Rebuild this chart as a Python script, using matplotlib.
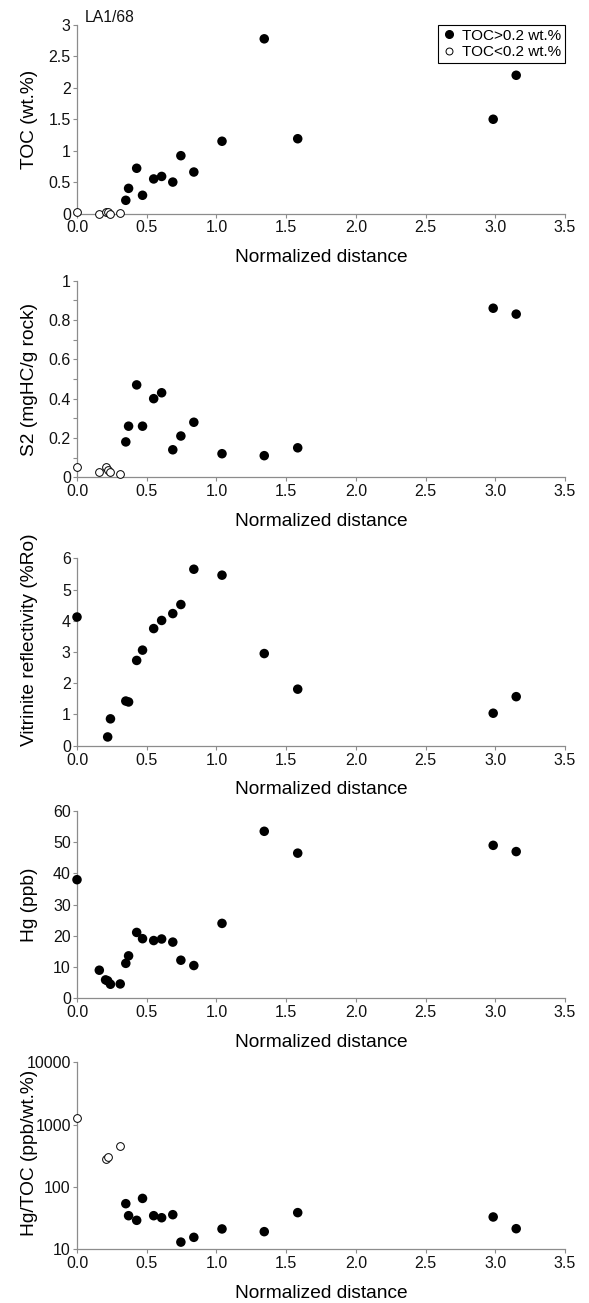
import numpy as np
import matplotlib
matplotlib.use("Agg")
import matplotlib.pyplot as plt
from matplotlib.lines import Line2D
from matplotlib.ticker import MultipleLocator, FixedLocator, FuncFormatter

plt.rcParams['font.family'] = ['Liberation Sans', 'DejaVu Sans']

# ---- data ----
distance = [0.0, 0.16, 0.205, 0.22, 0.24, 0.31, 0.35, 0.37, 0.428, 0.47,
            0.55, 0.607, 0.687, 0.745, 0.838, 1.04, 1.343, 1.583, 2.985, 3.15]
low_toc = [True] * 6 + [False] * 14
toc = [0.03, 0.0, 0.03, 0.02, 0.0, 0.01, 0.21, 0.40, 0.72, 0.29,
       0.55, 0.59, 0.50, 0.92, 0.66, 1.15, 2.78, 1.19, 1.50, 2.20]
s2 = [0.05, 0.027, 0.05, 0.037, 0.025, 0.017, 0.18, 0.26, 0.47, 0.26,
      0.40, 0.43, 0.14, 0.21, 0.28, 0.12, 0.11, 0.15, 0.86, 0.83]
vitrinite = [4.12, np.nan, np.nan, 0.28, 0.86, np.nan, 1.43, 1.40, 2.73, 3.06,
             3.75, 4.01, 4.23, 4.52, 5.65, 5.46, 2.95, 1.81, 1.04, 1.57]
hg = [38.0, 9.0, 5.9, 5.6, 4.5, 4.6, 11.2, 13.6, 21.1, 19.1,
      18.5, 19.0, 18.0, 12.2, 10.5, 24.0, 53.5, 46.5, 49.0, 47.0]
hg_toc = [1260, np.nan, 279, 301, np.nan, 452, 53.5, 34.3, 28.9, 65,
          34.3, 31.8, 35.6, 12.9, 15.4, 21.0, 19.0, 38.4, 32.7, 21.2]

x_ticks = [0.0, 0.5, 1.0, 1.5, 2.0, 2.5, 3.0, 3.5]
xlabel = "Normalized distance"

W, H = 589, 1303
fig = plt.figure(figsize=(W / 100, H / 100), dpi=100)

left_px, right_px = 77, 565
# (top_px, bottom_px) of each panel
panels_px = [(25, 213.5), (280.7, 477.3), (558.3, 745.7), (811, 998.3), (1062.3, 1249)]

SPINE = '#8c8c8c'
LABEL_FS = 13.8
TICK_FS = 11.5
FILLED_S = 47
OPEN_S = 31

x = np.array(distance)
low = np.array(low_toc)


def make_ax(i):
    top, bot = panels_px[i]
    ax = fig.add_axes([left_px / W, 1 - bot / H, (right_px - left_px) / W, (bot - top) / H])
    for s in ('top', 'right'):
        ax.spines[s].set_visible(False)
    for s in ('left', 'bottom'):
        ax.spines[s].set_color(SPINE)
        ax.spines[s].set_linewidth(0.9)
    ax.tick_params(axis='both', which='both', direction='out', length=3,
                   width=0.8, color=SPINE, labelsize=TICK_FS, labelcolor='#111111')
    ax.tick_params(axis='y', which='both', pad=1.5)
    ax.tick_params(axis='x', which='both', pad=2)
    ax.set_xlim(0, 3.5)
    ax.xaxis.set_major_locator(FixedLocator(x_ticks))
    ax.xaxis.set_major_formatter(FuncFormatter(lambda v, p: f"{v:.1f}"))
    ax.set_xlabel(xlabel, fontsize=LABEL_FS)
    hpx = bot - top
    ax.xaxis.set_label_coords(0.5, -44 / hpx)
    ax.xaxis.label.set_va('center')
    ax.yaxis.label.set_va('center')
    ax.yaxis.set_label_coords(-48 / (right_px - left_px), 0.5)
    return ax, hpx


def scatter_split(ax, y, split=True):
    y = np.array(y, dtype=float)
    if split:
        ax.scatter(x[~low], y[~low], s=FILLED_S, c='black', edgecolors='none', clip_on=False, zorder=3)
        ax.scatter(x[low], y[low], s=OPEN_S, facecolors='white', edgecolors='black',
                   linewidths=0.7, clip_on=False, zorder=3)
    else:
        ax.scatter(x, y, s=FILLED_S, c='black', edgecolors='none', clip_on=False, zorder=3)


gfmt = FuncFormatter(lambda v, p: f"{v:g}")

# Panel 1: TOC
ax, hpx = make_ax(0)
scatter_split(ax, toc)
ax.set_ylim(0, 3)
ax.yaxis.set_major_locator(MultipleLocator(0.5))
ax.yaxis.set_major_formatter(gfmt)
ax.set_ylabel("TOC (wt.%)", fontsize=LABEL_FS)
ax.text(0.016, 1 + 7 / hpx, "LA1/68", transform=ax.transAxes, fontsize=11.3,
        ha='left', va='center', color='#111111')
handles = [Line2D([], [], ls='none', marker='o', ms=5.5, mfc='black', mec='black'),
           Line2D([], [], ls='none', marker='o', ms=5, mfc='white', mec='black', mew=0.7)]
leg = ax.legend(handles, ["TOC>0.2 wt.%", "TOC<0.2 wt.%"], loc='upper right',
                bbox_to_anchor=(1.0, 1.0), borderaxespad=0.0, fontsize=11,
                frameon=True, fancybox=False, framealpha=1, edgecolor='black',
                handlelength=0.9, handletextpad=0.4, borderpad=0.25, labelspacing=0.15)
leg.get_frame().set_linewidth(0.8)

# Panel 2: S2
ax, hpx = make_ax(1)
scatter_split(ax, s2)
ax.set_ylim(0, 1)
ax.yaxis.set_major_locator(MultipleLocator(0.2))
ax.yaxis.set_minor_locator(MultipleLocator(0.1))
ax.yaxis.set_major_formatter(gfmt)
ax.set_ylabel("S2 (mgHC/g rock)", fontsize=LABEL_FS)

# Panel 3: Vitrinite reflectivity
ax, hpx = make_ax(2)
scatter_split(ax, vitrinite, split=False)
ax.set_ylim(0, 6)
ax.yaxis.set_major_locator(MultipleLocator(1))
ax.yaxis.set_major_formatter(gfmt)
ax.set_ylabel("Vitrinite reflectivity (%Ro)", fontsize=LABEL_FS)
ax.yaxis.set_label_coords(-48 / (right_px - left_px), 0.564)

# Panel 4: Hg
ax, hpx = make_ax(3)
scatter_split(ax, hg, split=False)
ax.set_ylim(0, 60)
ax.yaxis.set_major_locator(MultipleLocator(10))
ax.yaxis.set_major_formatter(gfmt)
ax.set_ylabel("Hg (ppb)", fontsize=LABEL_FS)

# Panel 5: Hg/TOC (log)
ax, hpx = make_ax(4)
scatter_split(ax, hg_toc)
ax.set_yscale('log')
ax.set_ylim(10, 10000)
ax.yaxis.set_major_locator(FixedLocator([10, 100, 1000, 10000]))
ax.yaxis.set_minor_locator(FixedLocator([]))
ax.yaxis.set_major_formatter(FuncFormatter(lambda v, p: f"{v:.0f}"))
ax.set_ylabel("Hg/TOC (ppb/wt.%)", fontsize=LABEL_FS)
ax.yaxis.set_label_coords(-48 / (right_px - left_px), 0.514)

fig.savefig("out.png", dpi=100)
